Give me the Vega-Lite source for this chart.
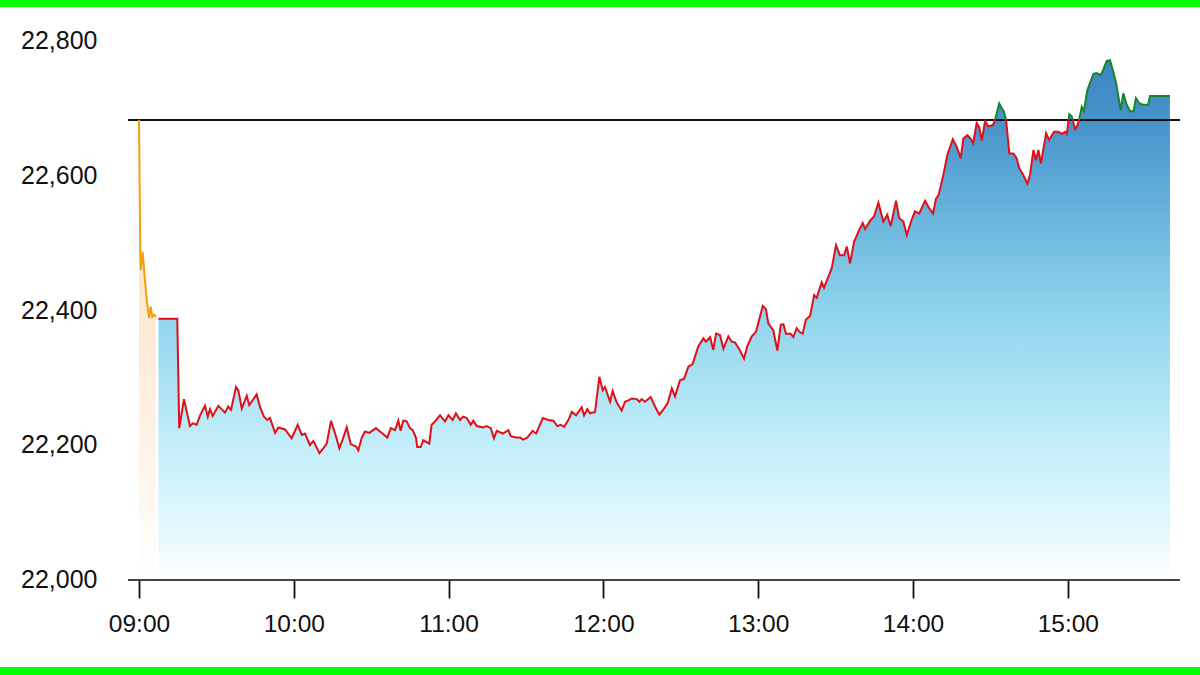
{
"$schema": "https://vega.github.io/schema/vega-lite/v6.json",
"width": 1200,
"height": 660,
"autosize": {"type": "none"},
"padding": {"top": 7, "bottom": 8, "left": 0, "right": 0},
"background": "#00ff00",
"config": {"view": {"fill": "white", "stroke": null}, "font": "Liberation Sans"},
"datasets": {
"pre": [
{"t": "2024-01-01T09:00:00", "v": 22682},
{"t": "2024-01-01T09:00:30", "v": 22479},
{"t": "2024-01-01T09:00:45", "v": 22459},
{"t": "2024-01-01T09:01:25", "v": 22486},
{"t": "2024-01-01T09:02:05", "v": 22454},
{"t": "2024-01-01T09:02:45", "v": 22425},
{"t": "2024-01-01T09:03:20", "v": 22405},
{"t": "2024-01-01T09:03:55", "v": 22388},
{"t": "2024-01-01T09:04:30", "v": 22405},
{"t": "2024-01-01T09:05:10", "v": 22390},
{"t": "2024-01-01T09:05:50", "v": 22393},
{"t": "2024-01-01T09:06:35", "v": 22390}
],
"main": [
{"t": "2024-01-01T09:07:30", "v": 22387},
{"t": "2024-01-01T09:14:50", "v": 22387},
{"t": "2024-01-01T09:15:35", "v": 22225},
{"t": "2024-01-01T09:17:25", "v": 22268},
{"t": "2024-01-01T09:19:45", "v": 22228},
{"t": "2024-01-01T09:20:50", "v": 22232},
{"t": "2024-01-01T09:22:20", "v": 22230},
{"t": "2024-01-01T09:23:40", "v": 22244},
{"t": "2024-01-01T09:25:35", "v": 22258},
{"t": "2024-01-01T09:26:40", "v": 22242},
{"t": "2024-01-01T09:27:30", "v": 22253},
{"t": "2024-01-01T09:28:35", "v": 22243},
{"t": "2024-01-01T09:30:45", "v": 22258},
{"t": "2024-01-01T09:33:20", "v": 22248},
{"t": "2024-01-01T09:34:35", "v": 22257},
{"t": "2024-01-01T09:35:40", "v": 22252},
{"t": "2024-01-01T09:37:35", "v": 22286},
{"t": "2024-01-01T09:38:30", "v": 22281},
{"t": "2024-01-01T09:39:50", "v": 22254},
{"t": "2024-01-01T09:41:45", "v": 22273},
{"t": "2024-01-01T09:42:45", "v": 22259},
{"t": "2024-01-01T09:45:35", "v": 22275},
{"t": "2024-01-01T09:46:55", "v": 22256},
{"t": "2024-01-01T09:48:25", "v": 22242},
{"t": "2024-01-01T09:49:45", "v": 22237},
{"t": "2024-01-01T09:50:45", "v": 22240},
{"t": "2024-01-01T09:52:45", "v": 22218},
{"t": "2024-01-01T09:54:00", "v": 22226},
{"t": "2024-01-01T09:56:35", "v": 22223},
{"t": "2024-01-01T09:59:10", "v": 22210},
{"t": "2024-01-01T10:01:30", "v": 22230},
{"t": "2024-01-01T10:03:05", "v": 22215},
{"t": "2024-01-01T10:04:20", "v": 22217},
{"t": "2024-01-01T10:06:15", "v": 22200},
{"t": "2024-01-01T10:07:35", "v": 22206},
{"t": "2024-01-01T10:09:55", "v": 22188},
{"t": "2024-01-01T10:11:25", "v": 22195},
{"t": "2024-01-01T10:12:45", "v": 22202},
{"t": "2024-01-01T10:14:25", "v": 22236},
{"t": "2024-01-01T10:16:00", "v": 22217},
{"t": "2024-01-01T10:17:40", "v": 22195},
{"t": "2024-01-01T10:18:55", "v": 22208},
{"t": "2024-01-01T10:20:30", "v": 22226},
{"t": "2024-01-01T10:22:05", "v": 22201},
{"t": "2024-01-01T10:24:05", "v": 22198},
{"t": "2024-01-01T10:25:00", "v": 22192},
{"t": "2024-01-01T10:26:20", "v": 22211},
{"t": "2024-01-01T10:27:35", "v": 22220},
{"t": "2024-01-01T10:29:15", "v": 22218},
{"t": "2024-01-01T10:31:50", "v": 22225},
{"t": "2024-01-01T10:33:25", "v": 22220},
{"t": "2024-01-01T10:36:15", "v": 22211},
{"t": "2024-01-01T10:37:35", "v": 22225},
{"t": "2024-01-01T10:39:15", "v": 22222},
{"t": "2024-01-01T10:40:30", "v": 22236},
{"t": "2024-01-01T10:41:25", "v": 22221},
{"t": "2024-01-01T10:42:25", "v": 22236},
{"t": "2024-01-01T10:43:45", "v": 22235},
{"t": "2024-01-01T10:45:00", "v": 22225},
{"t": "2024-01-01T10:46:05", "v": 22222},
{"t": "2024-01-01T10:47:20", "v": 22211},
{"t": "2024-01-01T10:47:50", "v": 22197},
{"t": "2024-01-01T10:49:10", "v": 22197},
{"t": "2024-01-01T10:50:10", "v": 22207},
{"t": "2024-01-01T10:52:30", "v": 22202},
{"t": "2024-01-01T10:53:25", "v": 22230},
{"t": "2024-01-01T10:54:45", "v": 22235},
{"t": "2024-01-01T10:56:40", "v": 22244},
{"t": "2024-01-01T10:58:35", "v": 22235},
{"t": "2024-01-01T10:59:55", "v": 22244},
{"t": "2024-01-01T11:01:35", "v": 22237},
{"t": "2024-01-01T11:02:50", "v": 22247},
{"t": "2024-01-01T11:04:25", "v": 22237},
{"t": "2024-01-01T11:05:40", "v": 22242},
{"t": "2024-01-01T11:07:00", "v": 22240},
{"t": "2024-01-01T11:08:35", "v": 22230},
{"t": "2024-01-01T11:09:35", "v": 22236},
{"t": "2024-01-01T11:10:55", "v": 22228},
{"t": "2024-01-01T11:13:25", "v": 22226},
{"t": "2024-01-01T11:14:45", "v": 22228},
{"t": "2024-01-01T11:16:20", "v": 22225},
{"t": "2024-01-01T11:17:35", "v": 22210},
{"t": "2024-01-01T11:18:40", "v": 22221},
{"t": "2024-01-01T11:21:00", "v": 22217},
{"t": "2024-01-01T11:23:10", "v": 22222},
{"t": "2024-01-01T11:24:05", "v": 22213},
{"t": "2024-01-01T11:26:05", "v": 22211},
{"t": "2024-01-01T11:27:40", "v": 22211},
{"t": "2024-01-01T11:28:55", "v": 22208},
{"t": "2024-01-01T11:30:30", "v": 22211},
{"t": "2024-01-01T11:32:35", "v": 22221},
{"t": "2024-01-01T11:33:55", "v": 22217},
{"t": "2024-01-01T11:36:30", "v": 22240},
{"t": "2024-01-01T11:38:40", "v": 22237},
{"t": "2024-01-01T11:40:35", "v": 22236},
{"t": "2024-01-01T11:42:10", "v": 22228},
{"t": "2024-01-01T11:43:25", "v": 22230},
{"t": "2024-01-01T11:44:45", "v": 22227},
{"t": "2024-01-01T11:46:25", "v": 22237},
{"t": "2024-01-01T11:47:45", "v": 22249},
{"t": "2024-01-01T11:49:25", "v": 22244},
{"t": "2024-01-01T11:51:35", "v": 22256},
{"t": "2024-01-01T11:52:30", "v": 22244},
{"t": "2024-01-01T11:53:45", "v": 22253},
{"t": "2024-01-01T11:54:50", "v": 22247},
{"t": "2024-01-01T11:56:45", "v": 22249},
{"t": "2024-01-01T11:58:25", "v": 22301},
{"t": "2024-01-01T11:59:45", "v": 22281},
{"t": "2024-01-01T12:00:35", "v": 22286},
{"t": "2024-01-01T12:02:35", "v": 22264},
{"t": "2024-01-01T12:03:35", "v": 22280},
{"t": "2024-01-01T12:05:10", "v": 22263},
{"t": "2024-01-01T12:07:05", "v": 22251},
{"t": "2024-01-01T12:08:20", "v": 22264},
{"t": "2024-01-01T12:09:40", "v": 22266},
{"t": "2024-01-01T12:11:00", "v": 22269},
{"t": "2024-01-01T12:12:55", "v": 22268},
{"t": "2024-01-01T12:13:55", "v": 22264},
{"t": "2024-01-01T12:14:50", "v": 22268},
{"t": "2024-01-01T12:16:05", "v": 22264},
{"t": "2024-01-01T12:18:20", "v": 22271},
{"t": "2024-01-01T12:20:00", "v": 22257},
{"t": "2024-01-01T12:21:40", "v": 22245},
{"t": "2024-01-01T12:23:30", "v": 22254},
{"t": "2024-01-01T12:25:00", "v": 22263},
{"t": "2024-01-01T12:26:30", "v": 22284},
{"t": "2024-01-01T12:27:45", "v": 22272},
{"t": "2024-01-01T12:29:40", "v": 22296},
{"t": "2024-01-01T12:31:15", "v": 22298},
{"t": "2024-01-01T12:32:55", "v": 22316},
{"t": "2024-01-01T12:34:35", "v": 22320},
{"t": "2024-01-01T12:36:45", "v": 22346},
{"t": "2024-01-01T12:38:45", "v": 22358},
{"t": "2024-01-01T12:39:45", "v": 22353},
{"t": "2024-01-01T12:41:20", "v": 22360},
{"t": "2024-01-01T12:42:35", "v": 22341},
{"t": "2024-01-01T12:43:40", "v": 22365},
{"t": "2024-01-01T12:45:10", "v": 22363},
{"t": "2024-01-01T12:46:30", "v": 22343},
{"t": "2024-01-01T12:48:25", "v": 22361},
{"t": "2024-01-01T12:49:45", "v": 22353},
{"t": "2024-01-01T12:51:00", "v": 22352},
{"t": "2024-01-01T12:52:40", "v": 22342},
{"t": "2024-01-01T12:54:30", "v": 22328},
{"t": "2024-01-01T12:55:45", "v": 22346},
{"t": "2024-01-01T12:57:30", "v": 22361},
{"t": "2024-01-01T12:59:10", "v": 22368},
{"t": "2024-01-01T13:01:45", "v": 22406},
{"t": "2024-01-01T13:03:00", "v": 22401},
{"t": "2024-01-01T13:03:55", "v": 22380},
{"t": "2024-01-01T13:05:50", "v": 22370},
{"t": "2024-01-01T13:07:25", "v": 22340},
{"t": "2024-01-01T13:08:45", "v": 22378},
{"t": "2024-01-01T13:09:45", "v": 22379},
{"t": "2024-01-01T13:10:45", "v": 22365},
{"t": "2024-01-01T13:12:35", "v": 22365},
{"t": "2024-01-01T13:13:35", "v": 22360},
{"t": "2024-01-01T13:14:55", "v": 22373},
{"t": "2024-01-01T13:16:10", "v": 22367},
{"t": "2024-01-01T13:17:15", "v": 22365},
{"t": "2024-01-01T13:18:30", "v": 22386},
{"t": "2024-01-01T13:20:05", "v": 22391},
{"t": "2024-01-01T13:21:40", "v": 22422},
{"t": "2024-01-01T13:22:40", "v": 22418},
{"t": "2024-01-01T13:24:35", "v": 22441},
{"t": "2024-01-01T13:25:30", "v": 22433},
{"t": "2024-01-01T13:27:10", "v": 22449},
{"t": "2024-01-01T13:28:30", "v": 22462},
{"t": "2024-01-01T13:30:10", "v": 22496},
{"t": "2024-01-01T13:31:40", "v": 22481},
{"t": "2024-01-01T13:33:15", "v": 22481},
{"t": "2024-01-01T13:34:20", "v": 22494},
{"t": "2024-01-01T13:35:35", "v": 22469},
{"t": "2024-01-01T13:37:10", "v": 22501},
{"t": "2024-01-01T13:38:50", "v": 22516},
{"t": "2024-01-01T13:40:30", "v": 22529},
{"t": "2024-01-01T13:41:25", "v": 22520},
{"t": "2024-01-01T13:43:20", "v": 22532},
{"t": "2024-01-01T13:44:55", "v": 22539},
{"t": "2024-01-01T13:46:35", "v": 22559},
{"t": "2024-01-01T13:48:30", "v": 22531},
{"t": "2024-01-01T13:50:00", "v": 22541},
{"t": "2024-01-01T13:51:20", "v": 22524},
{"t": "2024-01-01T13:53:25", "v": 22562},
{"t": "2024-01-01T13:54:40", "v": 22536},
{"t": "2024-01-01T13:56:15", "v": 22531},
{"t": "2024-01-01T13:57:35", "v": 22511},
{"t": "2024-01-01T13:59:30", "v": 22534},
{"t": "2024-01-01T14:00:45", "v": 22546},
{"t": "2024-01-01T14:02:25", "v": 22543},
{"t": "2024-01-01T14:04:40", "v": 22562},
{"t": "2024-01-01T14:05:55", "v": 22553},
{"t": "2024-01-01T14:07:45", "v": 22543},
{"t": "2024-01-01T14:08:55", "v": 22565},
{"t": "2024-01-01T14:09:50", "v": 22570},
{"t": "2024-01-01T14:10:50", "v": 22585},
{"t": "2024-01-01T14:11:45", "v": 22600},
{"t": "2024-01-01T14:13:20", "v": 22630},
{"t": "2024-01-01T14:15:25", "v": 22653},
{"t": "2024-01-01T14:16:55", "v": 22642},
{"t": "2024-01-01T14:18:30", "v": 22625},
{"t": "2024-01-01T14:19:30", "v": 22654},
{"t": "2024-01-01T14:21:05", "v": 22659},
{"t": "2024-01-01T14:22:20", "v": 22654},
{"t": "2024-01-01T14:23:20", "v": 22647},
{"t": "2024-01-01T14:24:40", "v": 22677},
{"t": "2024-01-01T14:25:40", "v": 22671},
{"t": "2024-01-01T14:26:40", "v": 22651},
{"t": "2024-01-01T14:27:55", "v": 22680},
{"t": "2024-01-01T14:29:10", "v": 22672},
{"t": "2024-01-01T14:30:55", "v": 22674},
{"t": "2024-01-01T14:31:45", "v": 22681},
{"t": "2024-01-01T14:33:25", "v": 22706},
{"t": "2024-01-01T14:34:25", "v": 22699},
{"t": "2024-01-01T14:35:15", "v": 22694},
{"t": "2024-01-01T14:36:05", "v": 22681},
{"t": "2024-01-01T14:37:20", "v": 22632},
{"t": "2024-01-01T14:38:55", "v": 22632},
{"t": "2024-01-01T14:40:10", "v": 22625},
{"t": "2024-01-01T14:41:10", "v": 22610},
{"t": "2024-01-01T14:42:45", "v": 22600},
{"t": "2024-01-01T14:44:20", "v": 22587},
{"t": "2024-01-01T14:45:20", "v": 22600},
{"t": "2024-01-01T14:46:40", "v": 22637},
{"t": "2024-01-01T14:47:40", "v": 22622},
{"t": "2024-01-01T14:48:35", "v": 22637},
{"t": "2024-01-01T14:49:35", "v": 22617},
{"t": "2024-01-01T14:51:35", "v": 22662},
{"t": "2024-01-01T14:52:45", "v": 22652},
{"t": "2024-01-01T14:54:40", "v": 22664},
{"t": "2024-01-01T14:56:20", "v": 22664},
{"t": "2024-01-01T14:57:40", "v": 22661},
{"t": "2024-01-01T14:58:55", "v": 22664},
{"t": "2024-01-01T14:59:35", "v": 22661},
{"t": "2024-01-01T15:00:35", "v": 22690},
{"t": "2024-01-01T15:01:30", "v": 22687},
{"t": "2024-01-01T15:02:50", "v": 22668},
{"t": "2024-01-01T15:03:40", "v": 22673},
{"t": "2024-01-01T15:04:25", "v": 22683},
{"t": "2024-01-01T15:05:25", "v": 22701},
{"t": "2024-01-01T15:06:15", "v": 22695},
{"t": "2024-01-01T15:07:35", "v": 22726},
{"t": "2024-01-01T15:08:35", "v": 22736},
{"t": "2024-01-01T15:09:55", "v": 22750},
{"t": "2024-01-01T15:11:10", "v": 22751},
{"t": "2024-01-01T15:12:45", "v": 22748},
{"t": "2024-01-01T15:13:45", "v": 22756},
{"t": "2024-01-01T15:15:05", "v": 22769},
{"t": "2024-01-01T15:16:20", "v": 22770},
{"t": "2024-01-01T15:17:25", "v": 22756},
{"t": "2024-01-01T15:18:40", "v": 22737},
{"t": "2024-01-01T15:20:30", "v": 22696},
{"t": "2024-01-01T15:21:30", "v": 22721},
{"t": "2024-01-01T15:22:50", "v": 22704},
{"t": "2024-01-01T15:24:05", "v": 22695},
{"t": "2024-01-01T15:25:25", "v": 22694},
{"t": "2024-01-01T15:26:25", "v": 22714},
{"t": "2024-01-01T15:27:45", "v": 22706},
{"t": "2024-01-01T15:29:15", "v": 22704},
{"t": "2024-01-01T15:31:10", "v": 22704},
{"t": "2024-01-01T15:31:50", "v": 22717},
{"t": "2024-01-01T15:39:35", "v": 22717}
],
"refs": [
{"t0": "2024-01-01T08:55:44", "t1": "2024-01-01T15:43:29", "base": 22000, "prev": 22681.5}
]
},
"layer": [
{
"data": {"name": "pre"},
"mark": {"type": "area", "opacity": 1, "fill": {"gradient": "linear", "x1": 0, "y1": 0, "x2": 0, "y2": 1, "stops": [{"offset": 0, "color": "#fcdcb8"}, {"offset": 0.5, "color": "#fdebd8"}, {"offset": 1, "color": "#ffffff"}]}},
"encoding": {
"x": {"field": "t", "type": "temporal",
"scale": {"domain": [{"year": 2024, "month": 1, "date": 1, "hours": 8, "minutes": 6, "seconds": 7}, {"year": 2024, "month": 1, "date": 1, "hours": 15, "minutes": 51, "seconds": 14}], "nice": false},
"axis": {"title": null, "values": [{"year": 2024, "month": 1, "date": 1, "hours": 9}, {"year": 2024, "month": 1, "date": 1, "hours": 10}, {"year": 2024, "month": 1, "date": 1, "hours": 11}, {"year": 2024, "month": 1, "date": 1, "hours": 12}, {"year": 2024, "month": 1, "date": 1, "hours": 13}, {"year": 2024, "month": 1, "date": 1, "hours": 14}, {"year": 2024, "month": 1, "date": 1, "hours": 15}],
"format": "%H:%M", "offset": -87, "domain": false, "grid": false, "tickSize": 18, "tickColor": "#111111", "tickWidth": 1.8, "labelFontSize": 24.5, "labelColor": "#111111", "labelPadding": 14, "labelFlush": false, "labelOverlap": false, "labelFont": "Liberation Sans"}},
"y": {"field": "v", "type": "quantitative",
"scale": {"domain": [21871.11, 22848.89], "nice": false, "zero": false},
"axis": {"title": null, "values": [22000, 22200, 22400, 22600, 22800], "format": ",.0f", "offset": -97, "domain": false, "ticks": false, "grid": false, "labelPadding": 0, "labelFontSize": 25, "labelColor": "#111111", "labelFont": "Liberation Sans", "labelOverlap": false}},
"y2": {"datum": 22000}
}
},
{
"data": {"name": "main"},
"mark": {"type": "area", "opacity": 1, "fill": {"gradient": "linear", "x1": 0, "y1": 0, "x2": 0, "y2": 1, "stops": [{"offset": 0, "color": "#3b85c3"}, {"offset": 0.13, "color": "#4a94cb"}, {"offset": 0.22, "color": "#5aa6d6"}, {"offset": 0.48, "color": "#8ed3ec"}, {"offset": 0.74, "color": "#c3eef9"}, {"offset": 0.9, "color": "#e3f8fd"}, {"offset": 1, "color": "#ffffff"}]}},
"encoding": {
"x": {"field": "t", "type": "temporal"},
"y": {"field": "v", "type": "quantitative"},
"y2": {"datum": 22000}
}
},
{
"data": {"name": "refs"},
"mark": {"type": "rule", "color": "#444444", "strokeWidth": 1.8},
"encoding": {
"x": {"field": "t0", "type": "temporal"},
"x2": {"field": "t1"},
"y": {"field": "base", "type": "quantitative"}
}
},
{
"data": {"name": "refs"},
"mark": {"type": "rule", "color": "#111111", "strokeWidth": 2},
"encoding": {
"x": {"field": "t0", "type": "temporal"},
"x2": {"field": "t1"},
"y": {"field": "prev", "type": "quantitative"}
}
},
{
"data": {"name": "pre"},
"mark": {"type": "line", "color": "#f2a20c", "strokeWidth": 2},
"encoding": {
"x": {"field": "t", "type": "temporal"},
"y": {"field": "v", "type": "quantitative"}
}
},
{
"data": {"name": "main"},
"mark": {"type": "line", "strokeWidth": 2, "stroke": {"gradient": "linear", "x1": 0, "y1": 0, "x2": 0, "y2": 1, "stops": [{"offset": 0, "color": "#14852a"}, {"offset": 0.152, "color": "#14852a"}, {"offset": 0.152, "color": "#e0101a"}, {"offset": 1, "color": "#e0101a"}]}},
"encoding": {
"x": {"field": "t", "type": "temporal"},
"y": {"field": "v", "type": "quantitative"}
}
}
]
}
